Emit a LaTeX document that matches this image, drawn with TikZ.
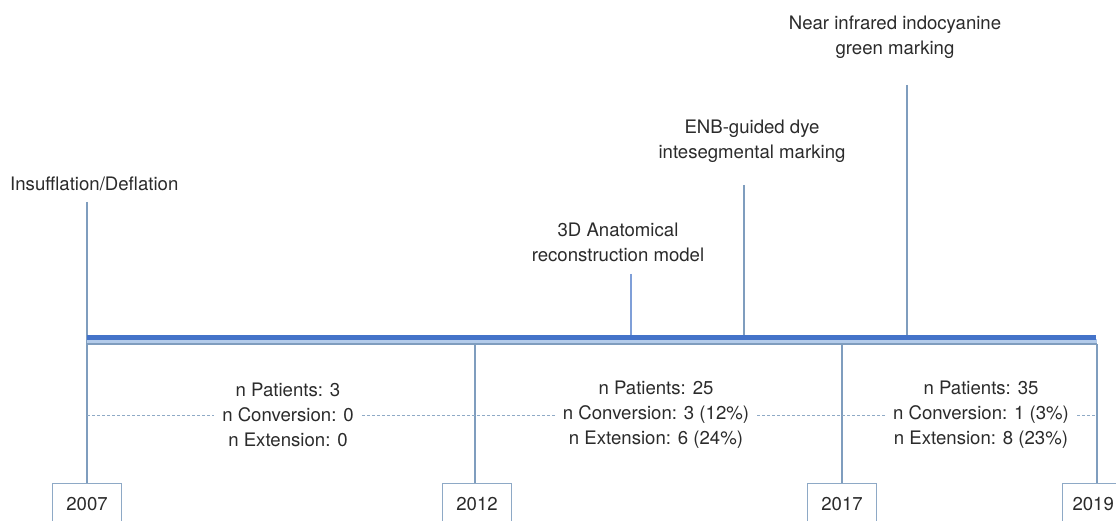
\documentclass[tikz,border=0pt]{standalone}
\usepackage{fontspec}
\setmainfont{TeX Gyre Heros}
\definecolor{barblue}{HTML}{4473C9}
\definecolor{lightbar}{HTML}{B3CBEA}
\definecolor{lineblue}{HTML}{7F9DBE}
\definecolor{boxc}{HTML}{8EA9C6}
\definecolor{evblue}{HTML}{7F9FD8}
\definecolor{dashc}{HTML}{8FAAC6}
\definecolor{txt}{HTML}{2B2B2B}
\begin{document}
\begin{tikzpicture}[x=1pt,y=-1pt,
  font=\fontsize{18.6}{25}\selectfont,
  txtnode/.style={text=txt, inner sep=0pt, align=center},
  vline/.style={draw=lineblue, line width=1.4pt},
  yearbox/.style={draw=boxc, line width=1.4pt, minimum width=69pt, minimum height=40pt, inner sep=0pt, text=txt, fill=white},
  block/.style={text=txt, align=center, inner xsep=8pt, inner ysep=0pt},
  dashline/.style={draw=dashc, line width=1pt, dash pattern=on 3pt off 2pt}]
\useasboundingbox (0,0) rectangle (1116,521);

% year boxes
\node[yearbox, anchor=north] (y07) at (87,483) {2007};
\node[yearbox, anchor=north] (y12) at (477,483) {2012};
\node[yearbox, anchor=north] (y17) at (842,483) {2017};
\node[yearbox, anchor=north, text width=49pt, align=left] (y19) at (1097,483) {2019};

% coordinates on the bar
\coordinate (ins) at (87,202);
\coordinate (j12) at (475,344);
\coordinate (j17) at (842,344);
\coordinate (j19) at (1097,344);

% vertical lines to the years
\draw[vline] (ins) -- (y07.north);
\draw[vline] (j12) -- (j12 |- y12.north);
\draw[vline] (j17) -- (y17.north);
\draw[vline] (j19) -- (y19.north);

% event lines
\coordinate (e3dtop) at (631,274);
\coordinate (e3d) at (631,337);
\coordinate (enbtop) at (744,185);
\coordinate (enb) at (744,337);
\coordinate (nirtop) at (907,85);
\coordinate (nir) at (907,337);
\draw[line width=1.4pt, draw=evblue] (e3dtop) -- (e3d);
\draw[vline] (enbtop) -- (enb);
\draw[vline] (nirtop) -- (nir);

% timeline bar
\fill[lightbar] (87,339) rectangle (1097,343.5);
\draw[barblue, line width=5pt] (87,337.5) -- (1096,337.5);
\draw[lineblue, line width=1.4pt] (87,344) -- (j19);

% labels
\node[txtnode, anchor=west] (lins) at (10,184) {Insufflation/Deflation};
\node[txtnode] (l3d) at (618,242) {3D Anatomical\\reconstruction model};
\node[txtnode] (lenb) at (752,141) {ENB-guided dye\\intesegmental marking};
\node[txtnode] (lnir) at (895,37) {Near infrared indocyanine\\green marking};

% statistics blocks
\node[block] (blk1) at (288,415) {n Patients: 3\\n Conversion: 0\\n Extension: 0};
\node[block] (blk2) at (656,415) {n Patients: 25\\n Conversion: 3 (12\%)\\n Extension: 6 (24\%)};
\node[block] (blk3) at (981,415) {n Patients: 35\\n Conversion: 1 (3\%)\\n Extension: 8 (23\%)};

\coordinate (d07) at (87,415);
\coordinate (d19) at (1097,415);
\draw[dashline] (d07) -- (blk1.west);
\draw[dashline] (blk1.east) -- (blk2.west);
\draw[dashline] (blk2.east) -- (blk3.west);
\draw[dashline] (blk3.east) -- (d19);
\end{tikzpicture}
\end{document}
